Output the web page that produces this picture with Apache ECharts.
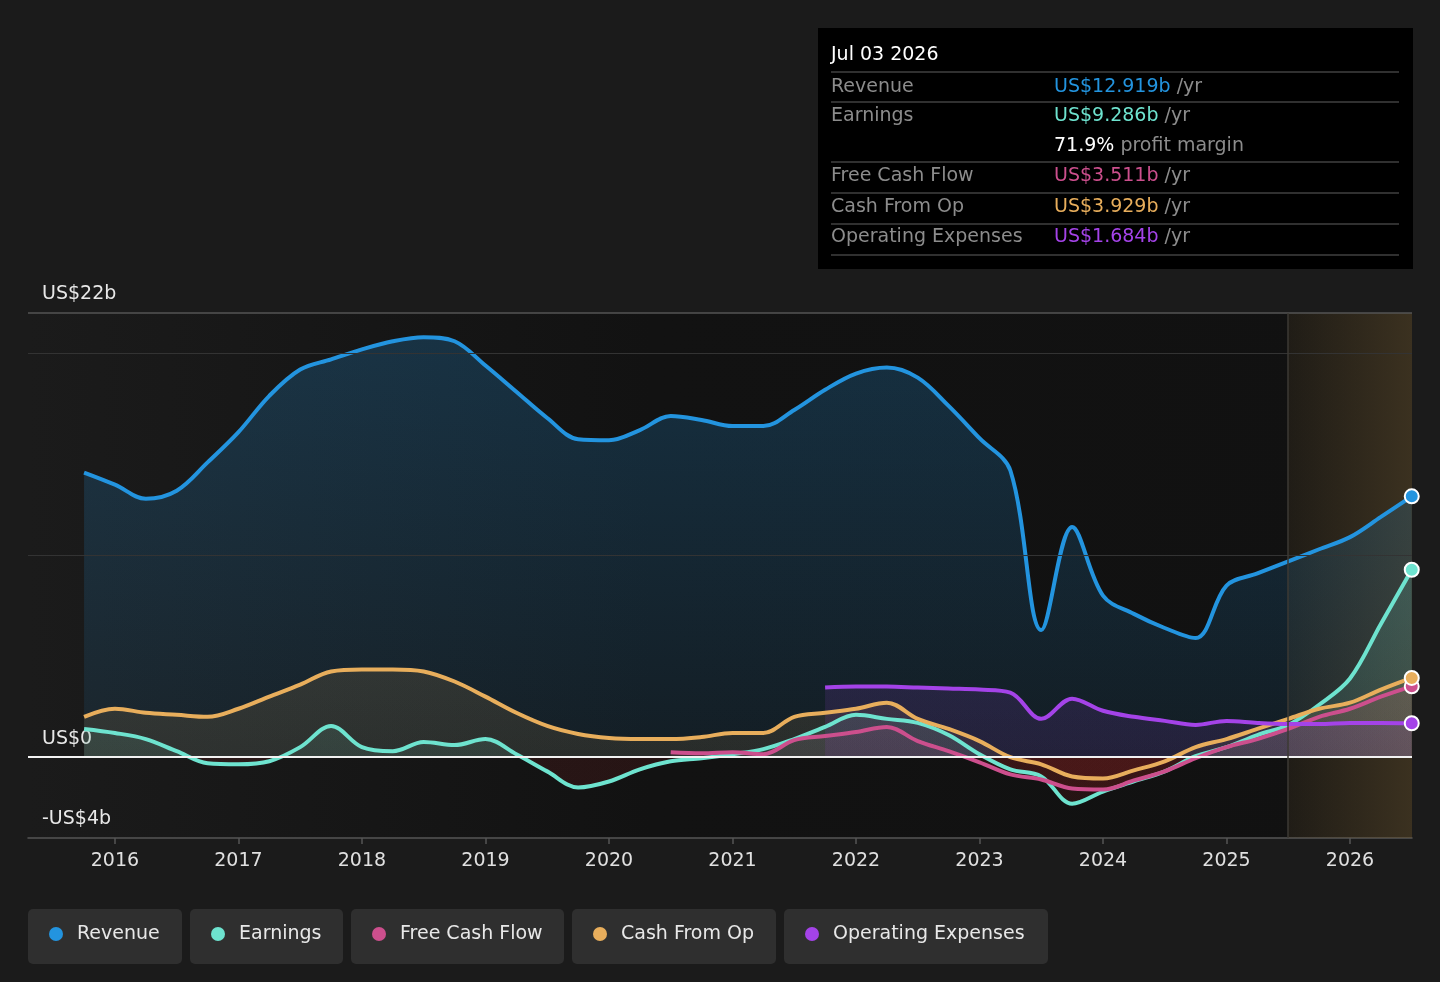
<!DOCTYPE html>
<html>
<head>
<meta charset="utf-8">
<title>Revenue, Earnings and Cash Flow</title>
<script src="https://cdn.jsdelivr.net/npm/echarts@6/dist/echarts.min.js"></script>
<style>
html, body { margin: 0; padding: 0; background: #1b1b1b; }
#chart { width: 1440px; height: 982px; }
</style>
</head>
<body>
<div id="chart"></div>
<script>
// quarterly points, decimal years
var quarters = [2015.75, 2016.0, 2016.25, 2016.5, 2016.75, 2017.0, 2017.25, 2017.5, 2017.75, 2018.0,
    2018.25, 2018.5, 2018.75, 2019.0, 2019.25, 2019.5, 2019.75, 2020.0, 2020.25, 2020.5,
    2020.75, 2021.0, 2021.25, 2021.5, 2021.75, 2022.0, 2022.25, 2022.5, 2022.75, 2023.0,
    2023.25, 2023.5, 2023.75, 2024.0, 2024.25, 2024.5, 2024.75, 2025.0, 2025.25, 2025.5,
    2025.75, 2026.0, 2026.25, 2026.5];

// values in US$ billions
var revenue = [14.1, 13.5, 12.8, 13.2, 14.6, 16.1, 17.9, 19.2, 19.7, 20.2,
    20.6, 20.8, 20.6, 19.4, 18.1, 16.8, 15.75, 15.7, 16.2, 16.9,
    16.7, 16.4, 16.4, 17.2, 18.2, 19.0, 19.3, 18.8, 17.4, 15.8,
    14.2, 6.3, 11.4, 8.0, 7.1, 6.4, 5.9, 8.5, 9.1, 9.7,
    10.3, 10.9, 11.9, 12.919];
var earnings = [1.4, 1.2, 0.9, 0.3, -0.3, -0.35, -0.2, 0.5, 1.55, 0.5,
    0.3, 0.75, 0.6, 0.9, 0.15, -0.7, -1.5, -1.2, -0.6, -0.2,
    -0.05, 0.15, 0.4, 0.9, 1.5, 2.1, 1.9, 1.7, 1.1, 0.15,
    -0.6, -0.95, -2.3, -1.7, -1.2, -0.7, 0.05, 0.5, 1.1, 1.6,
    2.6, 3.9, 6.6, 9.286];
var freeCashFlow = [null, null, null, null, null, null, null, null, null, null,
    null, null, null, null, null, null, null, null, null, 0.25,
    0.2, 0.25, 0.15, 0.85, 1.05, 1.25, 1.5, 0.8, 0.3, -0.25,
    -0.85, -1.1, -1.55, -1.6, -1.15, -0.7, -0.05, 0.5, 0.9, 1.4,
    2.0, 2.4, 3.0, 3.511];
var cashFromOp = [2.0, 2.4, 2.2, 2.1, 2.0, 2.4, 3.0, 3.6, 4.25, 4.35,
    4.35, 4.25, 3.75, 3.0, 2.2, 1.55, 1.15, 0.95, 0.9, 0.9,
    1.0, 1.2, 1.2, 2.0, 2.2, 2.4, 2.7, 1.9, 1.4, 0.8,
    0.0, -0.35, -0.95, -1.05, -0.65, -0.2, 0.5, 0.9, 1.4, 1.9,
    2.4, 2.7, 3.35, 3.929];
var operatingExpenses = [null, null, null, null, null, null, null, null, null, null,
    null, null, null, null, null, null, null, null, null, null,
    null, null, null, null, 3.45, 3.5, 3.5, 3.45, 3.4, 3.35,
    3.2, 1.9, 2.9, 2.3, 2.0, 1.8, 1.6, 1.8, 1.7, 1.65,
    1.65, 1.7, 1.7, 1.684];

var yearTicks = [2016, 2017, 2018, 2019, 2020, 2021, 2022, 2023, 2024, 2025, 2026];
var valueTicks = [-4, 0, 22];
var gridValues = [10, 20];
var forecastStart = 2025.5;
var tooltipDate = 'Jul 03 2026';

var names = ['Revenue', 'Earnings', 'Free Cash Flow', 'Cash From Op', 'Operating Expenses'];
var colors = ['#2394df', '#6ee3cf', '#cc4f8d', '#e8ae5c', '#a443e8'];
var seriesValues = [revenue, earnings, freeCashFlow, cashFromOp, operatingExpenses];

var myChart = echarts.init(document.getElementById('chart'));

var X_MIN = 2015.296, X_MAX = 2026.502;
var GRID_TOP = 313, GRID_BOTTOM = 838;
var zeroOff = 22 / 26;
var FONT = 19;

function toPairs(vals) {
    return quarters.map(function (q, i) { return [q, vals[i]]; });
}

function rgba(hex, a) {
    var n = parseInt(hex.slice(1), 16);
    return 'rgba(' + (n >> 16) + ',' + ((n >> 8) & 255) + ',' + (n & 255) + ',' + a + ')';
}

// fill colour above zero in the series colour, below zero in dark red
function areaFill(c, top, mid) {
    return new echarts.graphic.LinearGradient(0, GRID_TOP, 0, GRID_BOTTOM, [
        {offset: 0, color: rgba(c, top)},
        {offset: zeroOff, color: rgba(c, mid)},
        {offset: zeroOff + 0.0005, color: 'rgba(200,40,40,0.16)'},
        {offset: 1, color: 'rgba(200,40,40,0.16)'}
    ], true);
}

var areaAlpha = [[0.34, 0.13], [0.35, 0.14], [0.22, 0.12], [0.3, 0.14], [0.3, 0.16]];

var series = names.map(function (name, i) {
    var vals = seriesValues[i];
    var last = vals.length - 1;
    return {
        name: name,
        type: 'line',
        data: toPairs(vals),
        smooth: 0.35,
        symbol: 'none',
        color: colors[i],
        lineStyle: {width: 4, color: colors[i]},
        areaStyle: {color: areaFill(colors[i], areaAlpha[i][0], areaAlpha[i][1])},
        markPoint: {
            symbol: 'circle',
            symbolSize: 14,
            silent: true,
            label: {show: false},
            itemStyle: {color: colors[i], borderColor: '#ffffff', borderWidth: 2},
            data: [{coord: [quarters[last], vals[last]]}]
        }
    };
});

// grid lines, zero line, forecast marker
series[0].markLine = {
    silent: true,
    symbol: 'none',
    label: {show: false},
    data: [
        {yAxis: gridValues[0], lineStyle: {color: '#333333', width: 1, type: 'solid'}},
        {yAxis: gridValues[1], lineStyle: {color: '#333333', width: 1, type: 'solid'}},
        {yAxis: 22, lineStyle: {color: '#555555', width: 1.5, type: 'solid'}},
        {yAxis: 0, lineStyle: {color: '#f2f2f2', width: 2, type: 'solid'}},
        {xAxis: forecastStart, lineStyle: {color: '#3d3a35', width: 1.5, type: 'solid'}}
    ]
};
series[0].markArea = {
    silent: true,
    itemStyle: {
        color: new echarts.graphic.LinearGradient(0, 0, 1, 0, [
            {offset: 0, color: 'rgba(110,88,50,0.16)'},
            {offset: 1, color: 'rgba(110,88,50,0.45)'}
        ])
    },
    data: [[{xAxis: forecastStart}, {xAxis: X_MAX}]]
};

// legend boxes [left, width]
var legendBoxes = [[28, 154], [190, 153], [351, 213], [572, 204], [784, 264]];
var legends = names.map(function (name, i) {
    return {
        data: [name],
        left: legendBoxes[i][0] + 21,
        top: 923,
        padding: 0,
        icon: 'circle',
        itemWidth: 32,
        itemHeight: 14,
        selectedMode: false,
        textStyle: {color: '#e8e8e8', fontSize: FONT, lineHeight: 22, fontFamily: 'DejaVu Sans'}
    };
});

var graphics = legendBoxes.map(function (b) {
    return {
        type: 'rect', z: -1,
        shape: {x: b[0], y: 909, width: b[1], height: 55, r: 5},
        style: {fill: '#2f2f2f'}
    };
});

// info panel (top right)
function fmt(v) { return 'US$' + v.toFixed(3) + 'b'; }
var lastIdx = quarters.length - 1;
var margin = (earnings[lastIdx] / revenue[lastIdx] * 100).toFixed(1) + '%';
var panelRows = [
    ['Revenue', fmt(revenue[lastIdx]), 'c0', 87],
    ['Earnings', fmt(earnings[lastIdx]), 'c1', 116],
    ['Free Cash Flow', fmt(freeCashFlow[lastIdx]), 'c2', 176],
    ['Cash From Op', fmt(cashFromOp[lastIdx]), 'c3', 207],
    ['Operating Expenses', fmt(operatingExpenses[lastIdx]), 'c4', 237]
];
var rich = {g: {fill: '#8c8c8c', fontSize: FONT, fontFamily: 'DejaVu Sans'},
    w: {fill: '#ffffff', fontSize: FONT, fontFamily: 'DejaVu Sans'}};
colors.forEach(function (c, i) { rich['c' + i] = {fill: c, fontSize: FONT, fontFamily: 'DejaVu Sans'}; });

graphics.push({type: 'rect', z: 50, shape: {x: 818, y: 28, width: 595, height: 241}, style: {fill: '#000000'}});
graphics.push({type: 'text', z: 51, x: 831, y: 55,
    style: {text: tooltipDate, fill: '#ffffff', font: '19px "DejaVu Sans"', verticalAlign: 'middle'}});
[72, 102, 162, 193, 224, 255].forEach(function (y) {
    graphics.push({type: 'line', z: 51, shape: {x1: 831, y1: y, x2: 1399, y2: y},
        style: {stroke: '#404040', lineWidth: 1.5}});
});
panelRows.forEach(function (r) {
    graphics.push({type: 'text', z: 51, x: 831, y: r[3],
        style: {text: r[0], fill: '#8c8c8c', font: FONT + 'px "DejaVu Sans"', verticalAlign: 'middle'}});
    graphics.push({type: 'text', z: 51, x: 1054, y: r[3],
        style: {text: '{' + r[2] + '|' + r[1] + '}{g| /yr}', rich: rich, verticalAlign: 'middle'}});
});
graphics.push({type: 'text', z: 51, x: 1054, y: 146,
    style: {text: '{w|' + margin + '}{g| profit margin}', rich: rich, verticalAlign: 'middle'}});

var option = {
    backgroundColor: '#1b1b1b',
    animation: false,
    textStyle: {fontFamily: 'DejaVu Sans'},
    grid: {
        left: 28, right: 28, top: GRID_TOP, bottom: 982 - GRID_BOTTOM,
        show: true,
        borderWidth: 0,
        backgroundColor: new echarts.graphic.LinearGradient(0, 0, 1, 0, [
            {offset: 0, color: '#1b1b1b'},
            {offset: 0.45, color: '#121212'},
            {offset: 1, color: '#111111'}
        ])
    },
    legend: legends,
    xAxis: {
        type: 'value',
        min: X_MIN,
        max: X_MAX,
        splitLine: {show: false},
        axisLine: {show: true, onZero: false, lineStyle: {color: '#555555', width: 1.5}},
        axisTick: {show: true, customValues: yearTicks, length: 6, lineStyle: {color: '#555555', width: 1.5}},
        axisLabel: {
            customValues: yearTicks, color: '#e0e0e0', fontSize: FONT, margin: 14,
            formatter: function (v) { return String(Math.round(v)); }
        }
    },
    yAxis: {
        type: 'value',
        min: -4,
        max: 22,
        splitLine: {show: false},
        axisLine: {show: false},
        axisTick: {show: false},
        axisLabel: {
            customValues: valueTicks,
            inside: true,
            margin: 14,
            color: '#e8e8e8',
            fontSize: FONT,
            verticalAlign: 'bottom',
            padding: [0, 0, 9, 0],
            formatter: function (v) {
                if (v < 0) return '-US$' + (-v) + 'b';
                if (v === 0) return 'US$0';
                return 'US$' + v + 'b';
            }
        }
    },
    graphic: graphics,
    series: series
};

myChart.setOption(option);
</script>
</body>
</html>
